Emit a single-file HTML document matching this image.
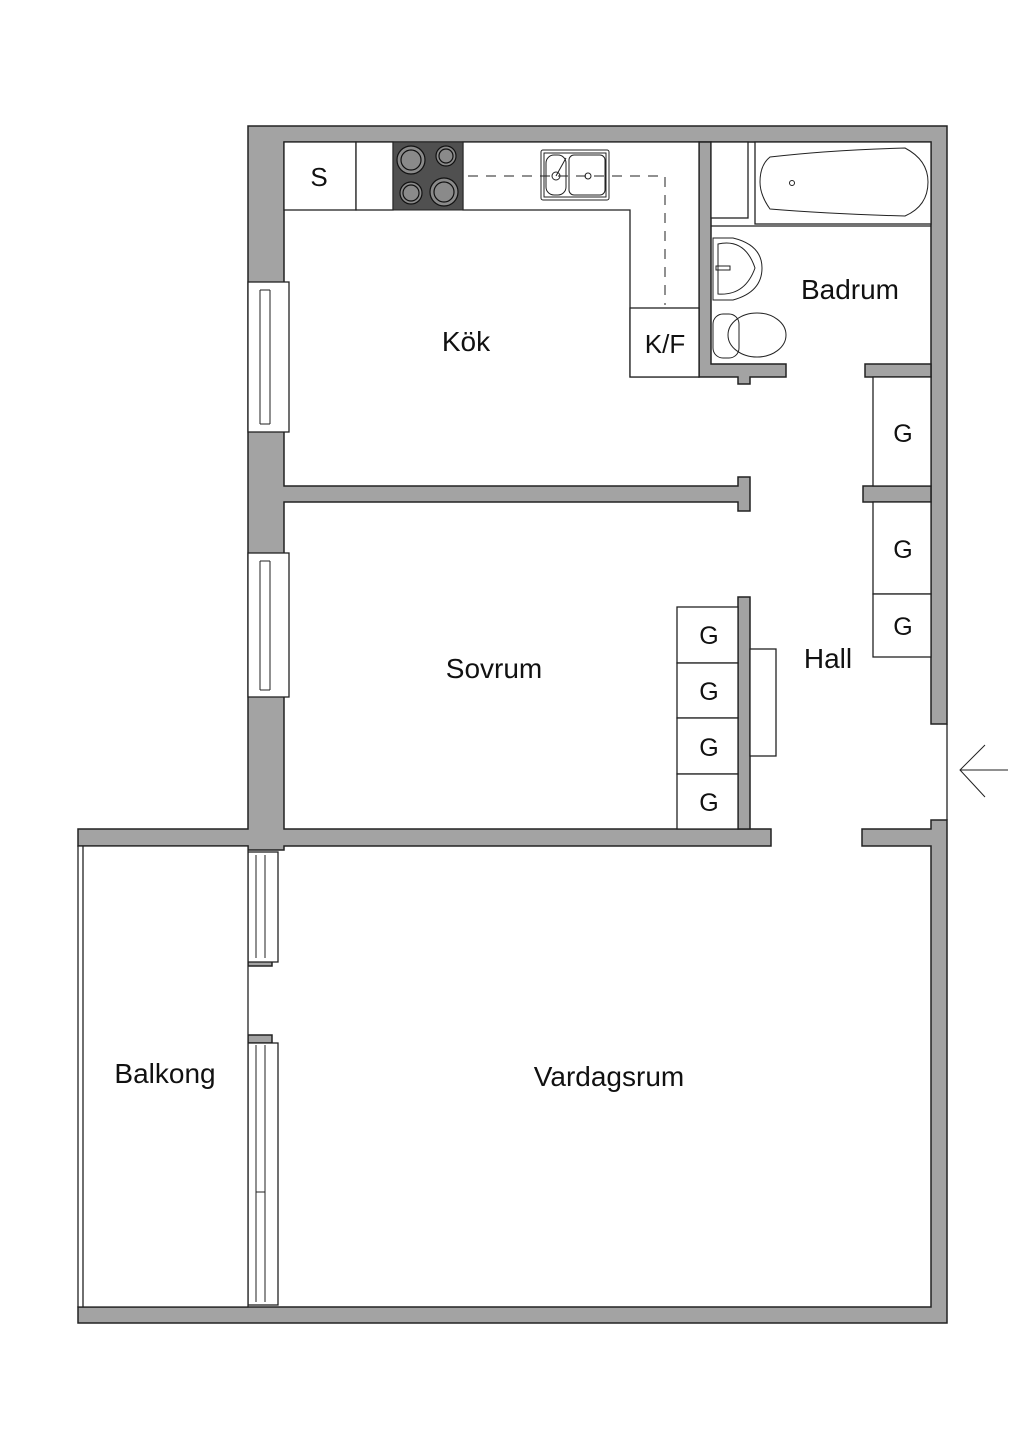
<!DOCTYPE html>
<html><head><meta charset="utf-8"><style>
html,body{margin:0;padding:0;background:#fff}
svg{display:block}
text{font-family:"Liberation Sans",sans-serif;fill:#111}
</style></head><body>
<svg width="1024" height="1448" viewBox="0 0 1024 1448" xmlns="http://www.w3.org/2000/svg">
<g fill="#a3a3a3" stroke="#222" stroke-width="1.5">
<!-- top wall + left wall -->
<path d="M248 126 H947 V724 H931 V142 H284 V486 H738 V477 H750 V511 H738 V502 H284 V829 H771 V846 H284 V850 H248 V846 H78 V829 H248 Z"/>
<!-- kitchen/bath wall -->
<path d="M699 142 H711 V364 H786 V377 H750 V384 H738 V377 H699 Z"/>
<!-- bath right bottom -->
<rect x="865" y="364" width="66" height="13"/>
<!-- hall closet partition -->
<rect x="863" y="486" width="68" height="16"/>
<!-- sovrum closet wall -->
<rect x="738" y="597" width="12" height="232"/>
<!-- hall bottom right -->
<path d="M862 829 H931 V820 H947 V1323 H78 V1307 H931 V846 H862 Z"/>
<!-- door stubs vardagsrum -->
<rect x="248" y="958" width="24" height="8"/>
<rect x="248" y="1035" width="24" height="8"/>
</g>
<g fill="#fff" stroke="#222" stroke-width="1.3">
<!-- windows -->
<rect x="248" y="282" width="41" height="150"/>
<rect x="248" y="553" width="41" height="144"/>
<rect x="248" y="852" width="30" height="110"/>
<rect x="248" y="1043" width="30" height="262"/>
<!-- entry -->
<line x1="947" y1="724" x2="947" y2="820"/>
<!-- balcony -->
<rect x="78" y="846" width="170" height="461"/>
<line x1="83" y1="846" x2="83" y2="1307"/>
<!-- kitchen counters -->
<rect x="284" y="142" width="72" height="68"/>
<rect x="356" y="142" width="37" height="68"/>
<path d="M463 142 H699 V377 H630 V210 H463 Z"/>
<rect x="630" y="308" width="69" height="69"/>
<!-- bath -->
<rect x="711" y="142" width="37" height="76"/>
<rect x="755" y="142" width="176" height="82"/>
<line x1="711" y1="226" x2="931" y2="226"/>
<!-- closets -->
<rect x="873" y="377" width="58" height="109"/>
<rect x="873" y="502" width="58" height="92"/>
<rect x="873" y="594" width="58" height="63"/>
<rect x="677" y="607" width="61" height="56"/>
<rect x="677" y="663" width="61" height="55"/>
<rect x="677" y="718" width="61" height="56"/>
<rect x="677" y="774" width="61" height="55"/>
<rect x="750" y="649" width="26" height="107"/>
</g>
<g fill="none" stroke="#222" stroke-width="1">
<line x1="260" y1="290" x2="260" y2="424"/><line x1="270" y1="290" x2="270" y2="424"/><line x1="260" y1="290" x2="270" y2="290"/><line x1="260" y1="424" x2="270" y2="424"/>
<line x1="260" y1="561" x2="260" y2="690"/><line x1="270" y1="561" x2="270" y2="690"/><line x1="260" y1="561" x2="270" y2="561"/><line x1="260" y1="690" x2="270" y2="690"/>
<line x1="256" y1="855" x2="256" y2="958"/><line x1="265" y1="855" x2="265" y2="958"/>
<line x1="256" y1="1045" x2="256" y2="1302"/><line x1="265" y1="1045" x2="265" y2="1302"/><line x1="256" y1="1192" x2="265" y2="1192"/>
<!-- sink -->
<rect x="541" y="150" width="68" height="50" rx="2"/>
<rect x="544" y="153" width="62" height="44"/>
<rect x="546" y="155" width="20" height="40" rx="8"/>
<rect x="569" y="155" width="36" height="40" rx="5"/>
<circle cx="556" cy="176" r="4"/><circle cx="588" cy="176" r="3"/>
<line x1="556" y1="176" x2="566" y2="158"/>
<!-- dashed -->
<path d="M468 176 H665 V305" stroke-dasharray="10 8"/>
<!-- tub -->
<path d="M770 157 Q830 150 905 148 Q928 160 928 182 Q928 206 905 216 Q830 214 770 209 Q760 195 760 182 Q760 165 770 157 Z"/>
<circle cx="792" cy="183" r="2.5"/>
<!-- basin -->
<path d="M713 238 H733 Q762 245 762 268 Q762 292 733 300 H713 Z"/>
<path d="M718 244 Q745 238 755 268 Q745 296 718 294 Z"/>
<rect x="716" y="266" width="14" height="4"/>
<!-- toilet -->
<rect x="713" y="314" width="26" height="44" rx="10"/>
<ellipse cx="757" cy="335" rx="29" ry="22"/>
<!-- arrow -->
<path d="M960 770 H1008 M985 745 L960 770 L985 797"/>
</g>
<!-- stove -->
<rect x="393" y="142" width="70" height="68" fill="#505050" stroke="#222"/>
<g fill="#8a8a8a" stroke="#111" stroke-width="1.2">
<circle cx="411" cy="160" r="14"/><circle cx="411" cy="160" r="10"/>
<circle cx="446" cy="156" r="10"/><circle cx="446" cy="156" r="7"/>
<circle cx="411" cy="193" r="11"/><circle cx="411" cy="193" r="8"/>
<circle cx="444" cy="192" r="14"/><circle cx="444" cy="192" r="10"/>
</g>
<g font-size="28" text-anchor="middle">
<text x="466" y="351">Kök</text>
<text x="494" y="678">Sovrum</text>
<text x="850" y="299">Badrum</text>
<text x="828" y="668">Hall</text>
<text x="165" y="1083">Balkong</text>
<text x="609" y="1086">Vardagsrum</text>
<text x="319" y="186" font-size="26">S</text>
<text x="665" y="353" font-size="26">K/F</text>
</g>
<g font-size="25" text-anchor="middle">
<text x="903" y="442">G</text><text x="903" y="558">G</text><text x="903" y="635">G</text>
<text x="709" y="644">G</text><text x="709" y="700">G</text><text x="709" y="756">G</text><text x="709" y="811">G</text>
</g>
</svg>
</body></html>
